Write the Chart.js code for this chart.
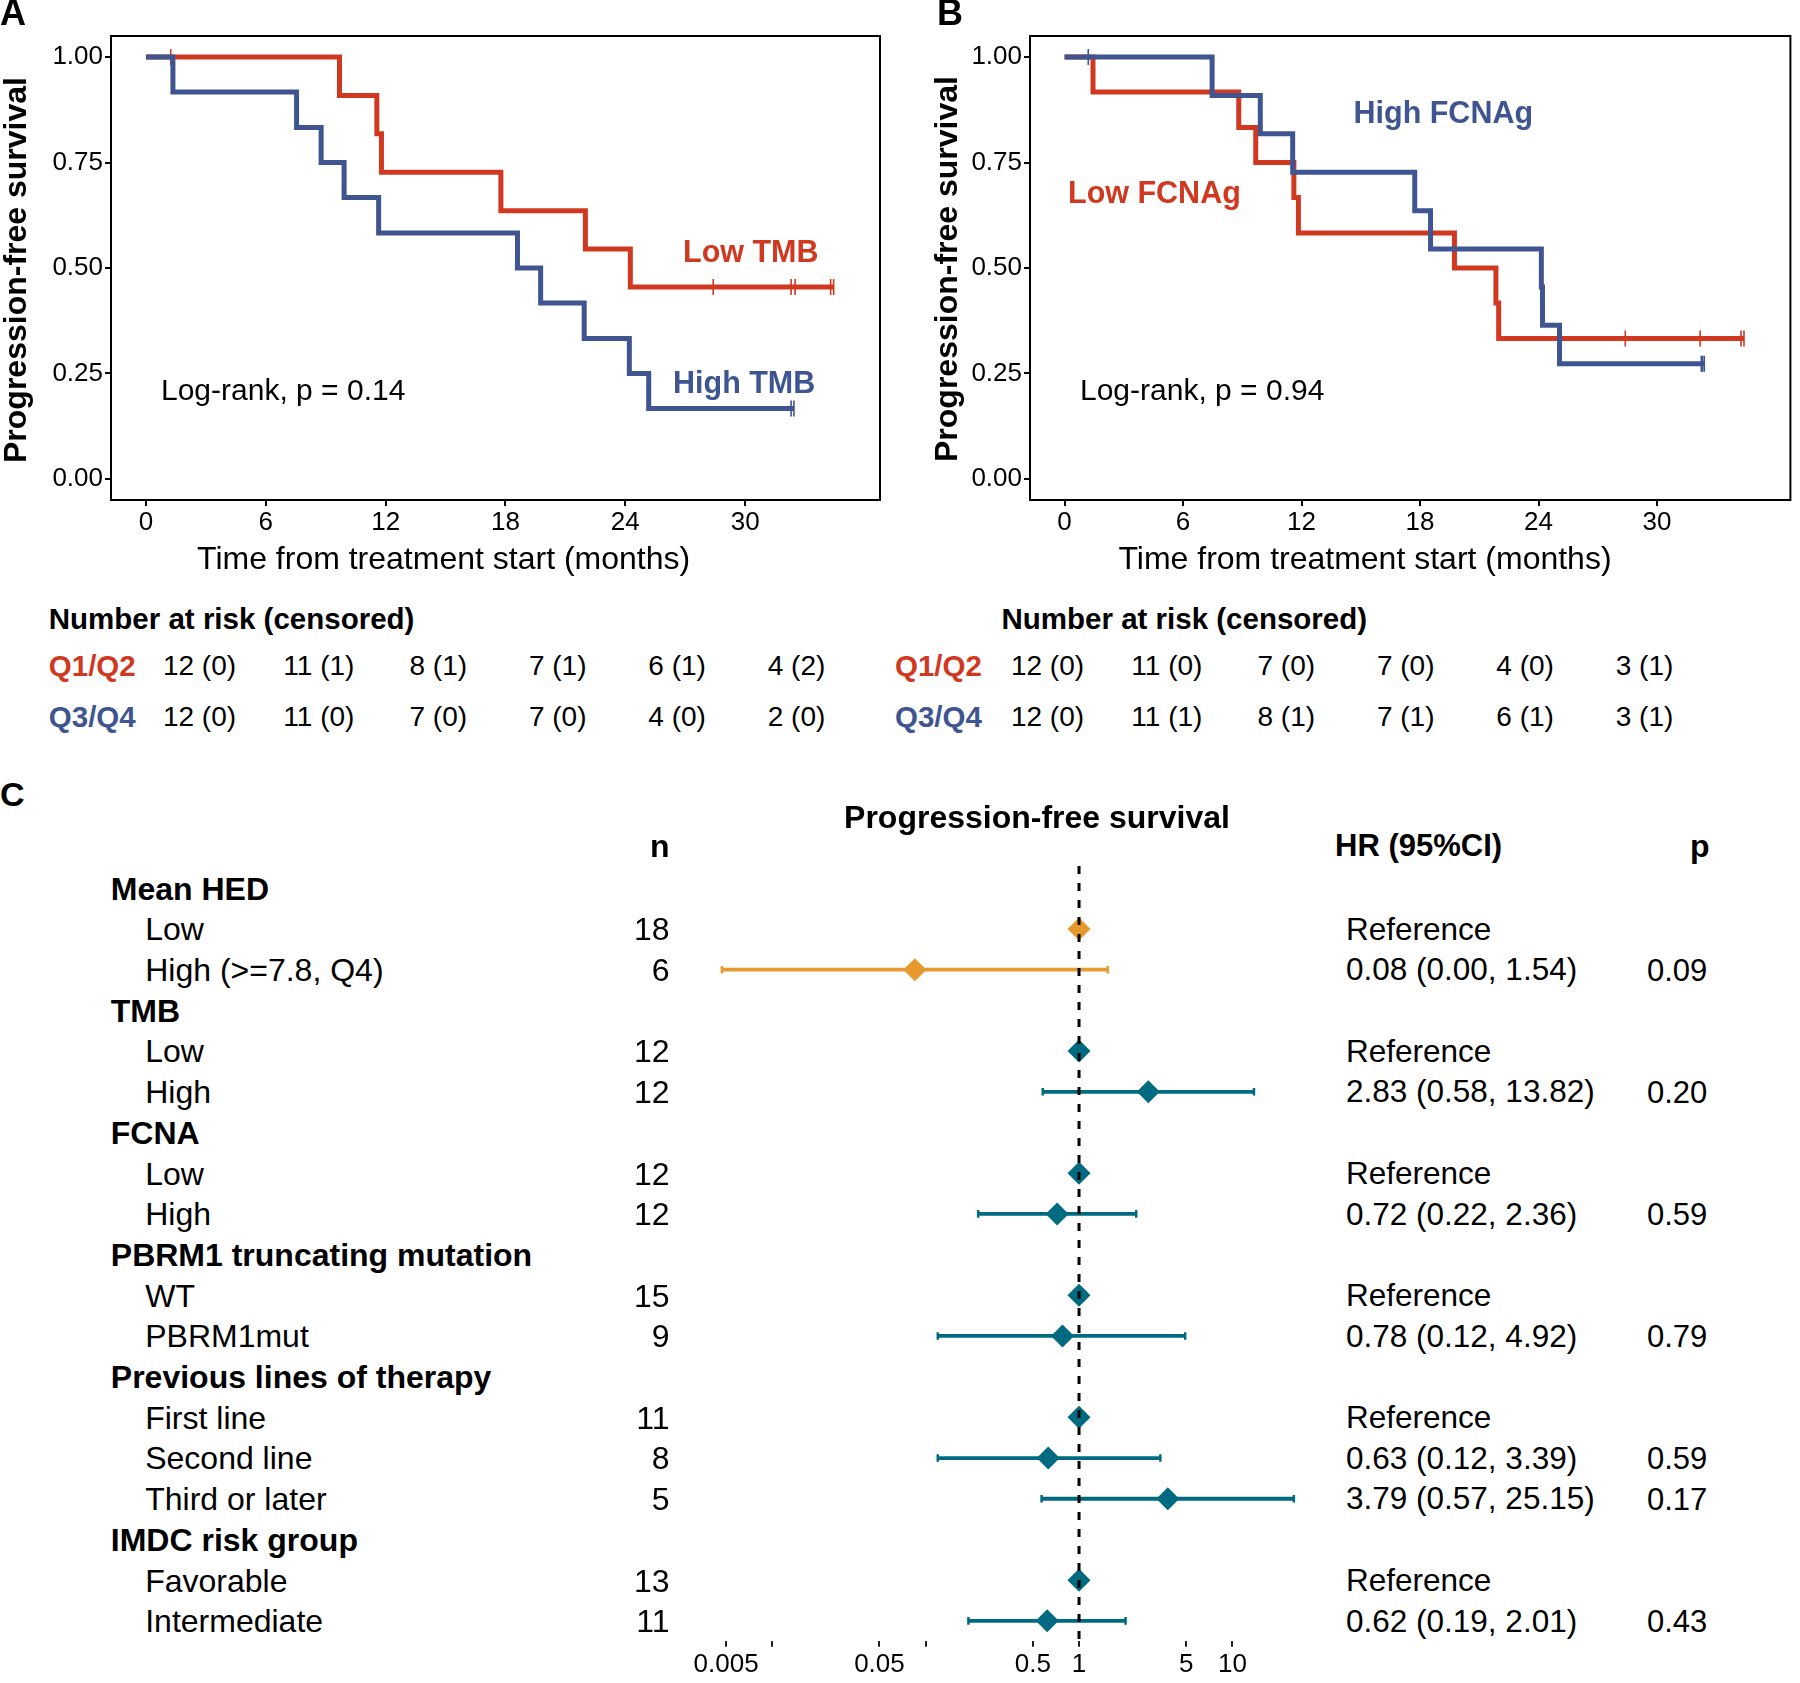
<!DOCTYPE html>
<html>
<head>
<meta charset="utf-8">
<script src="https://cdn.jsdelivr.net/npm/chart.js@4/dist/chart.umd.min.js"></script>
<style>
  html, body { margin: 0; padding: 0; background: #fff; }
  body { position: relative; width: 1800px; height: 1683px; overflow: hidden;
         font-family: "Liberation Sans", Arial, sans-serif; color: #000; }
  canvas { position: absolute; }
  .lbl { position: absolute; line-height: 1; white-space: nowrap; }
</style>
</head>
<body>
<canvas id="kmA" width="900" height="580" style="left:0px;top:0px"></canvas>
<canvas id="kmB" width="900" height="580" style="left:900px;top:0px"></canvas>
<canvas id="forest" width="680" height="903" style="left:650px;top:780px"></canvas>
<script>
// Colours
const RED = '#D0381F';
const BLUE = '#3E5591';
const ORANGE = '#E8992E';
const TEAL = '#006A80';

// ---- Kaplan-Meier curves (months, survival)
const kmXTicks = [0, 6, 12, 18, 24, 30];
const kmYTicks = [0, 0.25, 0.5, 0.75, 1];

// Panel A - TMB
const tmbLowTime = [0, 9.69, 11.56, 11.79, 17.77, 22.0, 24.25, 34.43];
const tmbLowSurv = [1, 0.909, 0.818, 0.727, 0.636, 0.545, 0.455, 0.455];
const tmbLowCensTime = [1.24, 28.4, 32.3, 32.5, 34.28, 34.43];
const tmbLowCensSurv = [1, 0.455, 0.455, 0.455, 0.455, 0.455];

const tmbHighTime = [0, 1.35, 7.54, 8.77, 9.92, 11.65, 18.6, 19.76, 21.94, 24.2, 25.17, 32.44];
const tmbHighSurv = [1, 0.917, 0.833, 0.75, 0.667, 0.583, 0.5, 0.417, 0.333, 0.25, 0.167, 0.167];
const tmbHighCensTime = [32.3, 32.44];
const tmbHighCensSurv = [0.167, 0.167];

// Panel B - FCNAg
const fcnaLowTime = [0, 1.44, 8.82, 9.68, 11.61, 11.84, 19.74, 21.84, 21.98, 34.4];
const fcnaLowSurv = [1, 0.917, 0.833, 0.75, 0.667, 0.583, 0.5, 0.417, 0.333, 0.333];
const fcnaLowCensTime = [28.39, 32.18, 34.25, 34.4];
const fcnaLowCensSurv = [0.333, 0.333, 0.333, 0.333];

const fcnaHighTime = [0, 7.47, 9.91, 11.55, 17.73, 18.53, 24.14, 24.2, 25.06, 32.39];
const fcnaHighSurv = [1, 0.909, 0.818, 0.727, 0.636, 0.545, 0.455, 0.364, 0.273, 0.273];
const fcnaHighCensTime = [1.2, 32.24, 32.3, 32.39];
const fcnaHighCensSurv = [1, 0.273, 0.273, 0.273];

// Number at risk (censored) at 0, 6, 12, 18, 24, 30 months
const riskA_Q12 = ['12 (0)', '11 (1)', '8 (1)', '7 (1)', '6 (1)', '4 (2)'];
const riskA_Q34 = ['12 (0)', '11 (0)', '7 (0)', '7 (0)', '4 (0)', '2 (0)'];
const riskB_Q12 = ['12 (0)', '11 (0)', '7 (0)', '7 (0)', '4 (0)', '3 (1)'];
const riskB_Q34 = ['12 (0)', '11 (1)', '8 (1)', '7 (1)', '6 (1)', '3 (1)'];

// ---- Forest plot (panel C)
const rowLabels = ['Mean HED', 'Low', 'High (>=7.8, Q4)', 'TMB', 'Low', 'High', 'FCNA', 'Low', 'High',
  'PBRM1 truncating mutation', 'WT', 'PBRM1mut', 'Previous lines of therapy', 'First line',
  'Second line', 'Third or later', 'IMDC risk group', 'Favorable', 'Intermediate'];
const rowIsHeader = [1, 0, 0, 1, 0, 0, 1, 0, 0, 1, 0, 0, 1, 0, 0, 0, 1, 0, 0];
const rowN = ['', '18', '6', '', '12', '12', '', '12', '12', '', '15', '9', '', '11', '8', '5', '', '13', '11'];
const hrEst = [null, 1, 0.085, null, 1, 2.83, null, 1, 0.72, null, 1, 0.78, null, 1, 0.63, 3.79, null, 1, 0.62];
const ciLow = [null, null, 0.0047, null, null, 0.58, null, null, 0.22, null, null, 0.12, null, null, 0.12, 0.57, null, null, 0.19];
const ciHigh = [null, null, 1.54, null, null, 13.82, null, null, 2.36, null, null, 4.92, null, null, 3.39, 25.15, null, null, 2.01];
const hrText = ['', 'Reference', '0.08 (0.00, 1.54)', '', 'Reference', '2.83 (0.58, 13.82)', '', 'Reference',
  '0.72 (0.22, 2.36)', '', 'Reference', '0.78 (0.12, 4.92)', '', 'Reference', '0.63 (0.12, 3.39)',
  '3.79 (0.57, 25.15)', '', 'Reference', '0.62 (0.19, 2.01)'];
const pText = ['', '', '0.09', '', '', '0.20', '', '', '0.59', '', '', '0.79', '', '', '0.59', '0.17', '', '', '0.43'];
const rowGroupColor = [ORANGE, ORANGE, ORANGE, TEAL, TEAL, TEAL, TEAL, TEAL, TEAL, TEAL, TEAL, TEAL,
  TEAL, TEAL, TEAL, TEAL, TEAL, TEAL, TEAL];
const forestTicks = [0.005, 0.01, 0.05, 0.1, 0.5, 1, 5, 10];
const forestTickLabels = ['0.005', '', '0.05', '', '0.5', '1', '5', '10'];

Chart.defaults.font.family = '"Liberation Sans", Arial, sans-serif';
Chart.defaults.color = '#000';

// text helper: x = anchor, cy = centre of capitals
function addText(str, x, cy, size, opts = {}) {
  const d = document.createElement('div');
  d.className = 'lbl';
  d.textContent = str;
  d.style.left = x + 'px';
  d.style.top = (cy - 0.4885 * size) + 'px';
  d.style.fontSize = size + 'px';
  if (opts.bold) d.style.fontWeight = 'bold';
  if (opts.color) d.style.color = opts.color;
  if (opts.align === 'right') d.style.transform = 'translateX(-100%)';
  if (opts.align === 'center') d.style.transform = 'translateX(-50%)';
  if (opts.rotate) {
    d.style.top = cy + 'px';
    d.style.transform = 'translate(-50%, -50%) rotate(-90deg)';
  }
  document.body.appendChild(d);
}

// box around each survival panel
const panelBox = {
  id: 'panelBox',
  afterDatasetsDraw(chart) {
    const { ctx, chartArea: a } = chart;
    ctx.save();
    ctx.strokeStyle = '#000';
    ctx.lineWidth = 2;
    ctx.strokeRect(a.left, a.top, a.right - a.left, a.bottom - a.top);
    ctx.restore();
  }
};

function kmDatasets(time, surv, censTime, censSurv, color) {
  return [
    {
      type: 'line',
      data: time.map((t, i) => ({ x: t, y: surv[i] })),
      stepped: 'before',
      borderColor: color,
      borderWidth: 5,
      borderJoinStyle: 'miter',
      borderCapStyle: 'butt',
      pointRadius: 0,
      fill: false
    },
    {
      type: 'scatter',
      data: censTime.map((t, i) => ({ x: t, y: censSurv[i] })),
      pointStyle: 'line',
      pointRotation: 90,
      pointRadius: 8,
      pointBorderColor: color,
      pointBorderWidth: 1.6,
      showLine: false
    }
  ];
}

function kmChart(id, datasets, yAxisWidth, rightPad) {
  return new Chart(document.getElementById(id), {
    type: 'line',
    data: { datasets },
    options: {
      responsive: false,
      animation: false,
      devicePixelRatio: 1,
      events: [],
      layout: { padding: { left: 0, right: rightPad, top: 36, bottom: 0 } },
      plugins: { legend: { display: false }, tooltip: { enabled: false } },
      scales: {
        x: {
          type: 'linear',
          min: -1.75,
          max: 36.75,
          afterBuildTicks: s => { s.ticks = kmXTicks.map(v => ({ value: v })); },
          afterFit: s => { s.height = 80; },
          grid: { drawOnChartArea: false, drawTicks: true, tickLength: 6, color: '#000', lineWidth: 2 },
          border: { display: false },
          ticks: { font: { size: 26 }, color: '#000', padding: 1, autoSkip: false, maxRotation: 0,
                   callback: v => String(v) }
        },
        y: {
          type: 'linear',
          min: -0.05,
          max: 1.05,
          afterBuildTicks: s => { s.ticks = kmYTicks.map(v => ({ value: v })); },
          afterFit: s => { s.width = yAxisWidth; },
          grid: { drawOnChartArea: false, drawTicks: true, tickLength: 6, color: '#000', lineWidth: 2 },
          border: { display: false },
          ticks: { font: { size: 26 }, color: '#000', padding: 2, autoSkip: false,
                   callback: v => v.toFixed(2) }
        }
      }
    },
    plugins: [panelBox]
  });
}

// blue first so it is drawn on top
kmChart('kmA', [
  ...kmDatasets(tmbHighTime, tmbHighSurv, tmbHighCensTime, tmbHighCensSurv, BLUE),
  ...kmDatasets(tmbLowTime, tmbLowSurv, tmbLowCensTime, tmbLowCensSurv, RED)
], 111, 20);

kmChart('kmB', [
  ...kmDatasets(fcnaHighTime, fcnaHighSurv, fcnaHighCensTime, fcnaHighCensSurv, BLUE),
  ...kmDatasets(fcnaLowTime, fcnaLowSurv, fcnaLowCensTime, fcnaLowCensSurv, RED)
], 130, 1);

// ---- forest plot
const forestSets = [];
// reference line at HR = 1
forestSets.push({
  type: 'line',
  data: [{ x: 1, y: -0.55 }, { x: 1, y: 18.65 }],
  borderColor: '#000',
  borderWidth: 3,
  borderDash: [8, 9],
  pointRadius: 0,
  clip: false
});
// diamonds
[ORANGE, TEAL].forEach(col => {
  const pts = [];
  hrEst.forEach((v, i) => { if (v !== null && rowGroupColor[i] === col) pts.push({ x: v, y: i }); });
  forestSets.push({
    type: 'scatter',
    data: pts,
    pointStyle: 'rectRot',
    pointRadius: 11.5,
    pointBackgroundColor: col,
    pointBorderWidth: 0,
    showLine: false
  });
});
// confidence intervals
ciLow.forEach((lo, i) => {
  if (lo === null) return;
  forestSets.push({
    type: 'line',
    data: [{ x: lo, y: i }, { x: ciHigh[i], y: i }],
    borderColor: rowGroupColor[i],
    borderWidth: 3.8,
    borderCapStyle: 'butt',
    pointStyle: 'line',
    pointRotation: 90,
    pointRadius: 3.8,
    pointBorderWidth: 2.5,
    pointBorderColor: rowGroupColor[i]
  });
});

new Chart(document.getElementById('forest'), {
  type: 'line',
  data: { datasets: forestSets },
  options: {
    responsive: false,
    animation: false,
    devicePixelRatio: 1,
    events: [],
    layout: { padding: { left: 29.9, right: 24.4, top: 67.6, bottom: 0 } },
    plugins: { legend: { display: false }, tooltip: { enabled: false } },
    scales: {
      x: {
        type: 'logarithmic',
        min: 0.0025,
        max: 30,
        afterBuildTicks: s => { s.ticks = forestTicks.map(v => ({ value: v })); },
        afterFit: s => { s.height = 42.2; },
        grid: { drawOnChartArea: false, drawTicks: true, tickLength: 6, color: '#222', lineWidth: 2 },
        border: { display: false },
        ticks: { font: { size: 26 }, color: '#000', padding: 2.6, autoSkip: false, maxRotation: 0,
                 callback: (v, i) => forestTickLabels[i] }
      },
      y: { type: 'linear', reverse: true, min: -1, max: 18.49, display: false }
    }
  }
});

// ---- texts, panels A and B
addText('A', 0, 13, 36, { bold: true });
addText('B', 937, 13, 36, { bold: true });
addText('Progression-free survival', 15, 270, 32, { bold: true, rotate: true });
addText('Progression-free survival', 946, 269, 32, { bold: true, rotate: true });
addText('Low TMB', 683, 250.6, 30.5, { bold: true, color: RED });
addText('High TMB', 673, 381.6, 30.5, { bold: true, color: BLUE });
addText('Log-rank, p = 0.14', 161, 390, 30);
addText('High FCNAg', 1353.5, 112, 30.5, { bold: true, color: BLUE });
addText('Low FCNAg', 1068, 191.5, 30.5, { bold: true, color: RED });
addText('Log-rank, p = 0.94', 1080, 390, 30);
addText('Time from treatment start (months)', 443.6, 557.3, 32, { align: 'center' });
addText('Time from treatment start (months)', 1365, 557.3, 32, { align: 'center' });

// number-at-risk tables
function riskTable(headX, qX, colX0, q12, q34) {
  addText('Number at risk (censored)', headX, 618, 29.5, { bold: true });
  addText('Q1/Q2', qX, 665.5, 29.5, { bold: true, color: RED });
  addText('Q3/Q4', qX, 716.7, 29.5, { bold: true, color: BLUE });
  q12.forEach((s, i) => addText(s, colX0 + i * 119.4, 665.5, 28, { align: 'center' }));
  q34.forEach((s, i) => addText(s, colX0 + i * 119.4, 716.2, 28, { align: 'center' }));
}
riskTable(48.8, 48.8, 199.5, riskA_Q12, riskA_Q34);
riskTable(1001.5, 895, 1047.5, riskB_Q12, riskB_Q34);

// ---- texts, panel C
addText('C', 0, 793.3, 34, { bold: true });
addText('Progression-free survival', 1037, 816.7, 32, { bold: true, align: 'center' });
addText('n', 650, 845.5, 32, { bold: true });
addText('HR (95%CI)', 1335, 845.5, 31, { bold: true });
addText('p', 1690, 845.5, 32, { bold: true });
rowLabels.forEach((lab, i) => {
  const cy = 888.3 + 40.7 * i;
  if (rowIsHeader[i]) addText(lab, 110.8, cy, 32, { bold: true });
  else addText(lab, 145.2, cy, 32);
  if (rowN[i]) addText(rowN[i], 669.5, cy, 32, { align: 'right' });
  if (hrText[i]) addText(hrText[i], 1346, cy, 31.5);
  if (pText[i]) addText(pText[i], 1647, cy, 31);
});
</script>
</body>
</html>
